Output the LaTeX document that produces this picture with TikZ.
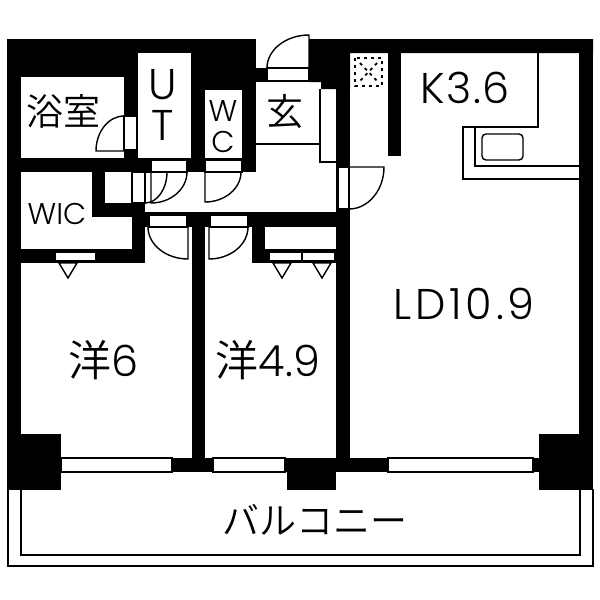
\documentclass[tikz,border=0pt]{standalone}
\usepackage{fontspec}
\setmainfont{Poppins Light}
\newfontfamily\cjk{Noto Sans CJK JP DemiLight}
\usetikzlibrary{calc}
\tikzset{
	wall/.style={fill=black},
	room/.style={fill=white},
	planline/.style={draw=black,line width=1.4pt},
	opening/.style={planline,fill=white},
	stoveline/.style={draw=black,line width=1.8pt,dash pattern=on 3pt off 4pt},
	biglabel/.style={inner sep=0pt,font=\fontsize{43}{43}\selectfont},
	smalllabel/.style={inner sep=0pt,font=\fontsize{30}{30}\selectfont},
	jplabel/.style={inner sep=0pt,font=\cjk\fontsize{37}{37}\selectfont}
}
\newcommand{\doorleaf}[4]{%
	\draw[planline] (#1,#2) .. controls ($(#1,#2)!.55!(#1,#4)$) and ($(#3,#4)!.55!(#1,#4)$) .. (#3,#4) -- (#3,#2) -- cycle;}
\begin{document}
\begin{tikzpicture}[x=1pt,y=-1pt]
		\useasboundingbox (0,0) rectangle (600,600);
		% balcony
		\draw[line width=2pt] (7.5,489) -- (7.5,566) -- (592.5,566) -- (592.5,489);
		\draw[line width=2pt] (20.5,489) -- (20.5,555) -- (579.5,555) -- (579.5,489);
		% walls
		\fill[wall] (7,39) rectangle (256,172);
		\fill[wall] (7,39) rectangle (21,490);
		\fill[wall] (309,39) -- (593,39) -- (593,53) -- (350,53) -- (350,89) -- (321,89) -- (321,82) -- (309,82) -- cycle;
		\fill[wall] (336,53) rectangle (350,460);
		\fill[wall] (579,39) rectangle (593,490);
		\fill[wall] (388,39) rectangle (401,156);
		\fill[wall] (256,68) rectangle (268,82);
		\fill[wall] (92,172) rectangle (105,217);
		\fill[wall] (92,203) rectangle (145,217);
		\fill[wall] (132,203) rectangle (145,263);
		\fill[wall] (21,249) rectangle (145,263);
		\fill[wall] (145,213) rectangle (336,227);
		\fill[wall] (192,213) rectangle (205,460);
		\fill[wall] (252,227) rectangle (265,263);
		\fill[wall] (252,249) rectangle (336,263);
		\fill[wall] (7,434) rectangle (61,490);
		\fill[wall] (539,434) rectangle (593,490);
		\fill[wall] (172,458) rectangle (213,472);
		\fill[wall] (285,458) rectangle (388,472);
		\fill[wall] (287,458) rectangle (336,490);
		\fill[wall] (533,458) rectangle (539,472);
		% rooms cut out of the block
		\fill[room] (21,77) rectangle (124,158);
		\fill[room] (138,53) rectangle (191,158);
		\fill[room] (205,90) rectangle (242,158);
		\fill[room] (21,172) rectangle (92,249);
		\fill[room] (92,217) rectangle (132,249);
		\fill[room] (105,172) rectangle (132,203);
		% openings
		\draw[opening] (124,116) rectangle (137,150);
		\draw[opening] (151,160) rectangle (187,172);
		\draw[opening] (205,160) rectangle (242,172);
		\fill[room] (145,172) rectangle (151,203);
		\draw[opening] (132,172) rectangle (145,203);
		\draw[planline] (132,172) -- (167,172);
		\draw[opening] (149,215) rectangle (187,227);
		\draw[opening] (210,215) rectangle (248,227);
		\draw[opening] (55,252) rectangle (96,261);
		\draw[opening] (269,252) rectangle (302,261);
		\draw[opening] (302,252) rectangle (335,261);
		\draw[opening] (267,68) rectangle (309,81);
		\draw[opening] (338,167) rectangle (349,209);
		\draw[planline] (145,213) -- (336,213);
		\draw[planline] (256,144) -- (320,144);
		\draw[planline] (320,89) -- (320,162) -- (336,162);
		% windows
		\draw[opening] (61,458) rectangle (172,472);
		\draw[opening] (213,458) rectangle (285,472);
		\draw[opening] (388,458) rectangle (533,472);
		% doors
		\doorleaf{96}{151}{124}{116}
		\doorleaf{167}{172}{145}{203}
		\doorleaf{187}{172}{151}{203}
		\doorleaf{241}{172}{205}{202}
		\doorleaf{148}{227}{188}{259}
		\doorleaf{248}{227}{209}{259}
		\doorleaf{267}{68}{309}{35}
		\doorleaf{384}{167}{349}{209}
		% closet marks
		\draw[planline] (59,263) -- (77,263) -- (68,278) -- cycle;
		\draw[planline] (273,263) -- (291,263) -- (282,278) -- cycle;
		\draw[planline] (313,263) -- (331,263) -- (322,278) -- cycle;
		% kitchen
		\draw[planline] (538,53) -- (538,127) -- (463,127) -- (463,179) -- (579,179);
		\draw[planline] (475,127) -- (475,166) -- (579,166);
		\draw[planline,rounded corners=4pt] (482,134) rectangle (523,160);
		\draw[stoveline] (355,58) rectangle (382,86);
		\draw[stoveline] (360,63) -- (377,81);
		\draw[stoveline] (377,63) -- (360,81);
		% labels
		\node[jplabel] (bath) at (64,111) {浴室};
		\node[biglabel] (utU) at (163,85) {U};
		\node[biglabel] (utT) at (163,125) {T};
		\node[smalllabel] (wcW) at (223,111) {W};
		\node[smalllabel] (wcC) at (223,142) {C};
		\node[jplabel] (entry) at (285,112) {玄};
		\node[biglabel] (kitchen) at (465,88) {\addfontfeature{LetterSpace=4}K3.6};
		\node[smalllabel] (wic) at (57,214) {WIC};
		\node[biglabel] (living) at (464,304) {\addfontfeature{LetterSpace=8.8}LD10.9};
		\node[biglabel] (westA) at (104,360) {{\cjk 洋}6};
		\node[biglabel] (westB) at (268,360) {{\cjk 洋}4.9};
		\node[jplabel] (balcony) at (315,520) {バルコニー};
	\end{tikzpicture}
\end{document}
